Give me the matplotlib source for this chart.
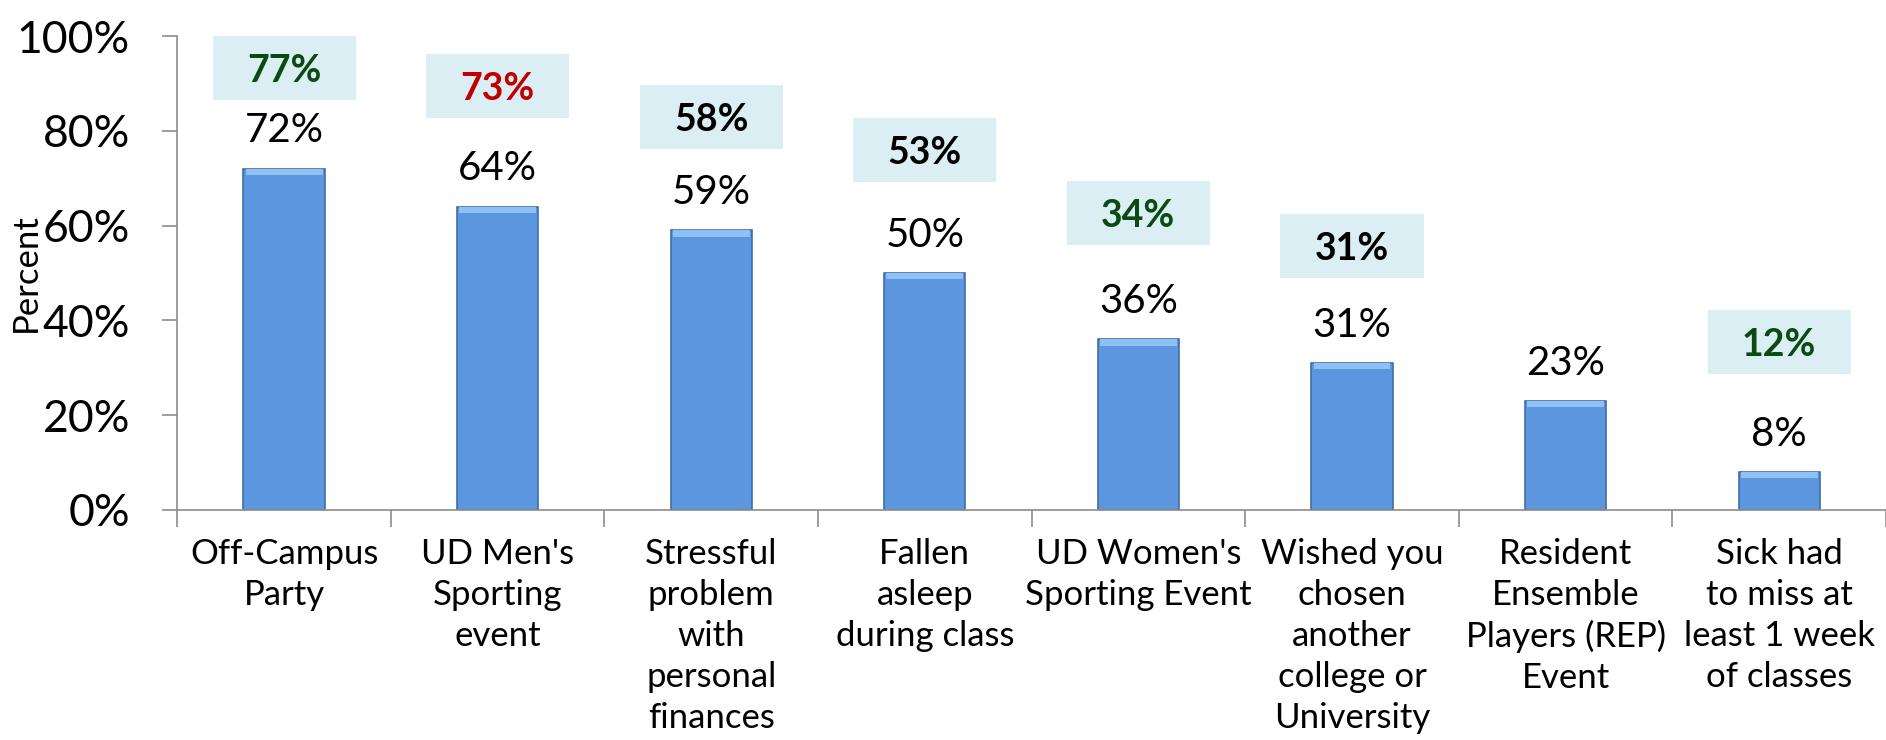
import matplotlib
matplotlib.use("Agg")
import matplotlib.pyplot as plt
from matplotlib.patches import Rectangle
from matplotlib.ticker import FuncFormatter

categories = ["Off-Campus\nParty", "UD Men's\nSporting\nevent", "Stressful\nproblem\nwith\npersonal\nfinances",
              "Fallen\nasleep\nduring class", "UD Women's\nSporting Event", "Wished you\nchosen\nanother\ncollege or\nUniversity",
              "Resident\nEnsemble\nPlayers (REP)\nEvent", "Sick had\nto miss at\nleast 1 week\nof classes"]
values = [72, 64, 59, 50, 36, 31, 23, 8]
compare = [77, 73, 58, 53, 34, 31, None, 12]
compare_colors = ["#0b4a12", "#c00000", "#000000", "#000000", "#0b4a12", "#000000", None, "#0b4a12"]

# where the comparison boxes sit (centre, in percent)
box_center = [93.2, 89.5, 82.9, 76.0, 62.7, 55.8, None, 35.4]

plt.rcParams['font.family'] = ['Lato', 'DejaVu Sans']

fig = plt.figure(figsize=(18.86, 7.4), dpi=100)
ax = fig.add_axes([0.094, 0.311, 0.906, 0.640])

x = range(len(values))
ax.bar(x, values, width=0.38, color="#5b96de", edgecolor="#3f6ea8", linewidth=1.2, zorder=2)
# light bevel on the bar tops
ax.bar(x, [1.3] * len(values), bottom=[v - 1.3 for v in values], width=0.36,
       color="#8fc0f2", linewidth=0, zorder=3)

for i, v in enumerate(values):
    ax.annotate(f"{v}%", (i, v), xytext=(0, 19), textcoords="offset points",
                ha="center", va="baseline", fontsize=29, color="black")

bw, bh = 0.67, 13.5
for i, c in enumerate(compare):
    if c is None:
        continue
    yc = box_center[i]
    ax.add_patch(Rectangle((i - bw / 2, yc - bh / 2), bw, bh, facecolor="#daeef3",
                           edgecolor="none", zorder=1, clip_on=False))
    ax.text(i, yc, f"{c}%", ha="center", va="center_baseline", fontsize=27,
            fontweight="bold", color=compare_colors[i], zorder=4)

ax.set_xlim(-0.5, len(values) - 0.5)
ax.set_ylim(0, 100)
ax.set_yticks([0, 20, 40, 60, 80, 100])
ax.yaxis.set_major_formatter(FuncFormatter(lambda v, p: f"{int(v)}%"))
ax.tick_params(axis="y", labelsize=32, length=11, width=1.2, color="#8c8c8c", pad=23)

ax.set_xticks(list(x))
ax.set_xticklabels(categories, fontsize=25, linespacing=1.35, va="top")
ax.tick_params(axis="x", length=0, pad=20)
ax.set_xticks([i - 0.5 for i in range(len(values) + 1)], minor=True)
ax.tick_params(axis="x", which="minor", length=12, width=1.2, color="#8c8c8c")

for s in ["top", "right"]:
    ax.spines[s].set_visible(False)
for s in ["left", "bottom"]:
    ax.spines[s].set_color("#8c8c8c")
    ax.spines[s].set_linewidth(1.2)

ax.set_ylabel("Percent", fontsize=25)
ax.yaxis.set_label_coords(-0.079, 0.5)

fig.savefig("out.png", dpi=100)
